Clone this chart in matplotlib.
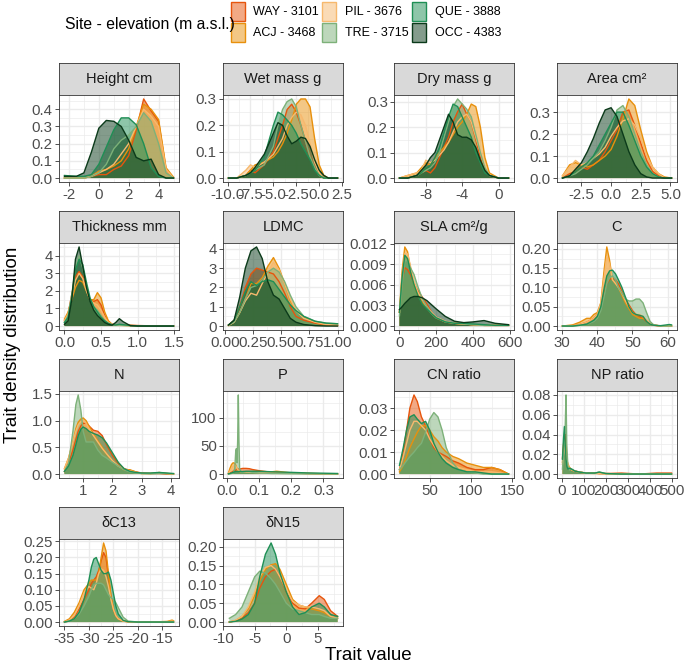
import matplotlib
matplotlib.use("Agg")
import matplotlib.pyplot as plt
from matplotlib.patches import Rectangle
from matplotlib.ticker import AutoMinorLocator

plt.rcParams['font.family'] = ['Liberation Sans', 'DejaVu Sans']
plt.rcParams['axes.unicode_minus'] = False

# ---------------- data ----------------
sites = ['WAY', 'ACJ', 'PIL', 'TRE', 'QUE', 'OCC']
site_labels = ['WAY - 3101', 'ACJ - 3468', 'PIL - 3676', 'TRE - 3715', 'QUE - 3888', 'OCC - 4383']
site_colors = ['#E6550D', '#E8900C', '#F7B96E', '#7DB179', '#1F8F55', '#0B3A1A']

panel_titles = ['Height cm', 'Wet mass g', 'Dry mass g', 'Area cm²',
                'Thickness mm', 'LDMC', 'SLA cm²/g', 'C',
                'N', 'P', 'CN ratio', 'NP ratio',
                'δC13', 'δN15']

height_x = [-2.3, -1.5, -1, -0.5, 0, 0.5, 1, 1.5, 2, 2.5, 3, 3.5, 4, 4.5, 5.0]
height_y = {
    'WAY': [0, 0, 0, 0.01, 0.02, 0.02, 0.05, 0.07, 0.13, 0.28, 0.46, 0.39, 0.33, 0.05, 0],
    'ACJ': [0, 0, 0, 0.01, 0.04, 0.05, 0.07, 0.10, 0.17, 0.30, 0.43, 0.40, 0.34, 0.06, 0.005],
    'PIL': [0, 0, 0, 0.01, 0.03, 0.05, 0.08, 0.14, 0.20, 0.30, 0.40, 0.36, 0.30, 0.05, 0],
    'TRE': [0, 0, 0, 0.01, 0.03, 0.08, 0.17, 0.22, 0.25, 0.30, 0.38, 0.33, 0.20, 0.03, 0],
    'QUE': [0.015, 0.01, 0.01, 0.02, 0.08, 0.18, 0.28, 0.35, 0.35, 0.31, 0.20, 0.06, 0.01, 0, 0],
    'OCC': [0.01, 0.01, 0.03, 0.15, 0.29, 0.335, 0.33, 0.30, 0.22, 0.12, 0.10, 0.11, 0.02, 0, 0],
}

wet_x = [-9.9, -9, -8, -7.5, -7, -6, -5, -4.5, -4, -3.5, -3, -2.5, -2, -1.5, -1, -0.5, 0, 0.5, 1, 2.0]
wet_y = {
    'WAY': [0, 0, 0.01, 0.03, 0.02, 0.05, 0.10, 0.15, 0.20, 0.26, 0.28, 0.25, 0.20, 0.14, 0.08, 0.04, 0.01, 0, 0, 0],
    'ACJ': [0, 0, 0.01, 0.03, 0.05, 0.06, 0.08, 0.10, 0.13, 0.17, 0.22, 0.28, 0.30, 0.30, 0.27, 0.15, 0.05, 0.01, 0, 0],
    'PIL': [0, 0, 0.03, 0.05, 0.04, 0.06, 0.09, 0.12, 0.15, 0.20, 0.23, 0.25, 0.24, 0.20, 0.13, 0.06, 0.02, 0, 0, 0],
    'TRE': [0, 0, 0.01, 0.02, 0.03, 0.05, 0.12, 0.20, 0.26, 0.29, 0.30, 0.27, 0.20, 0.14, 0.08, 0.04, 0.01, 0, 0, 0],
    'QUE': [0, 0, 0.01, 0.02, 0.03, 0.08, 0.20, 0.25, 0.24, 0.22, 0.20, 0.17, 0.13, 0.10, 0.07, 0.03, 0.01, 0, 0, 0],
    'OCC': [0, 0, 0.01, 0.02, 0.04, 0.09, 0.17, 0.21, 0.20, 0.16, 0.13, 0.14, 0.155, 0.15, 0.12, 0.07, 0.03, 0.01, 0, 0],
}

dry_x = [-10.9, -10, -9, -8.5, -8, -7.5, -7, -6.5, -6, -5.5, -5, -4.5, -4, -3.5, -3, -2.5, -2, -1.5, -1, 0, 1.1]
dry_y = {
    'WAY': [0, 0, 0.01, 0.02, 0.03, 0.02, 0.04, 0.08, 0.12, 0.16, 0.22, 0.26, 0.29, 0.25, 0.22, 0.15, 0.08, 0.03, 0.01, 0, 0],
    'ACJ': [0, 0.01, 0.02, 0.04, 0.06, 0.05, 0.08, 0.10, 0.12, 0.14, 0.17, 0.20, 0.22, 0.25, 0.29, 0.28, 0.20, 0.08, 0.02, 0, 0],
    'PIL': [0, 0.01, 0.02, 0.03, 0.07, 0.06, 0.07, 0.09, 0.11, 0.14, 0.18, 0.22, 0.24, 0.25, 0.22, 0.16, 0.10, 0.04, 0.01, 0, 0],
    'TRE': [0, 0, 0.01, 0.02, 0.03, 0.04, 0.06, 0.10, 0.16, 0.22, 0.28, 0.31, 0.29, 0.27, 0.24, 0.17, 0.10, 0.04, 0.01, 0, 0],
    'QUE': [0, 0, 0.01, 0.02, 0.04, 0.05, 0.08, 0.12, 0.18, 0.24, 0.29, 0.28, 0.24, 0.20, 0.16, 0.10, 0.06, 0.02, 0.01, 0, 0],
    'OCC': [0, 0, 0.01, 0.03, 0.05, 0.08, 0.10, 0.15, 0.20, 0.25, 0.22, 0.17, 0.16, 0.16, 0.15, 0.12, 0.07, 0.03, 0.01, 0, 0],
}

area_x = [-4.1, -3.5, -3, -2.5, -2, -1.5, -1, -0.5, 0, 0.5, 1, 1.5, 2, 2.5, 3, 3.5, 4, 4.5, 5.1]
area_y = {
    'WAY': [0, 0.02, 0.03, 0.05, 0.04, 0.06, 0.08, 0.12, 0.17, 0.22, 0.30, 0.31, 0.24, 0.16, 0.08, 0.03, 0.01, 0, 0],
    'ACJ': [0.01, 0.06, 0.07, 0.06, 0.05, 0.06, 0.08, 0.10, 0.13, 0.19, 0.27, 0.36, 0.33, 0.22, 0.12, 0.05, 0.02, 0.005, 0],
    'PIL': [0.01, 0.05, 0.08, 0.06, 0.07, 0.09, 0.11, 0.14, 0.19, 0.23, 0.26, 0.27, 0.24, 0.18, 0.10, 0.05, 0.02, 0, 0],
    'TRE': [0, 0.01, 0.02, 0.04, 0.06, 0.09, 0.12, 0.17, 0.23, 0.31, 0.33, 0.28, 0.20, 0.12, 0.06, 0.02, 0.005, 0, 0],
    'QUE': [0, 0.01, 0.03, 0.05, 0.07, 0.10, 0.15, 0.20, 0.25, 0.30, 0.30, 0.24, 0.17, 0.10, 0.05, 0.02, 0.005, 0, 0],
    'OCC': [0, 0.01, 0.04, 0.07, 0.12, 0.18, 0.25, 0.31, 0.32, 0.28, 0.20, 0.12, 0.06, 0.02, 0.005, 0, 0, 0, 0],
}

thick_x = [0.0, 0.05, 0.1, 0.15, 0.2, 0.25, 0.3, 0.35, 0.4, 0.45, 0.5, 0.55, 0.6, 0.65, 0.7, 0.75, 0.8, 0.9, 1.0, 1.2, 1.49]
thick_y = {
    'WAY': [0.3, 0.7, 1.8, 2.8, 3.1, 2.8, 2.1, 1.5, 1.4, 1.5, 1.2, 0.6, 0.25, 0.1, 0.06, 0.06, 0.05, 0.05, 0.03, 0.01, 0],
    'ACJ': [0.4, 0.8, 1.5, 2.2, 2.6, 2.5, 2.0, 1.5, 1.5, 1.9, 1.6, 0.8, 0.3, 0.1, 0.05, 0.05, 0.04, 0.03, 0.02, 0.01, 0],
    'PIL': [0.3, 0.7, 1.6, 2.6, 3.0, 2.7, 2.0, 1.5, 1.3, 1.2, 0.9, 0.5, 0.2, 0.1, 0.05, 0.04, 0.03, 0.02, 0.01, 0, 0],
    'TRE': [0.2, 0.6, 1.8, 3.3, 4.0, 3.3, 2.3, 1.5, 1.1, 0.9, 0.6, 0.3, 0.15, 0.08, 0.05, 0.05, 0.04, 0.02, 0.01, 0, 0],
    'QUE': [0.2, 0.5, 1.6, 3.2, 3.8, 3.5, 2.5, 1.6, 1.1, 0.8, 0.5, 0.3, 0.15, 0.08, 0.06, 0.10, 0.08, 0.03, 0.01, 0, 0],
    'OCC': [0.1, 0.3, 1.5, 3.8, 4.5, 3.4, 2.2, 1.4, 0.9, 0.6, 0.4, 0.2, 0.1, 0.05, 0.2, 0.42, 0.25, 0.02, 0, 0, 0],
}

ldmc_x = [0.03, 0.08, 0.13, 0.18, 0.23, 0.28, 0.33, 0.38, 0.43, 0.48, 0.53, 0.58, 0.63, 0.7, 0.8, 0.9, 1.0]
ldmc_y = {
    'WAY': [0.05, 0.3, 1.0, 2.0, 2.7, 3.0, 2.9, 2.8, 2.7, 2.3, 1.7, 1.0, 0.5, 0.3, 0.15, 0.05, 0.02],
    'ACJ': [0.03, 0.2, 0.7, 1.4, 2.2, 2.2, 2.5, 3.1, 3.55, 3.0, 2.2, 1.3, 0.8, 0.45, 0.2, 0.08, 0.05],
    'PIL': [0.03, 0.2, 0.7, 1.3, 1.7, 1.6, 2.2, 2.8, 3.3, 2.9, 2.2, 1.4, 0.8, 0.4, 0.2, 0.08, 0.05],
    'TRE': [0.05, 0.2, 0.7, 1.4, 2.0, 2.1, 2.4, 2.8, 3.0, 2.8, 2.3, 1.6, 1.0, 0.5, 0.25, 0.15, 0.12],
    'QUE': [0.05, 0.3, 1.0, 1.8, 2.3, 2.1, 2.3, 2.4, 2.3, 1.9, 1.5, 1.1, 0.8, 0.5, 0.25, 0.15, 0.12],
    'OCC': [0.05, 0.3, 1.5, 3.0, 3.9, 4.1, 3.5, 2.3, 1.6, 1.4, 0.9, 0.4, 0.2, 0.08, 0.02, 0, 0],
}

sla_x = [1, 15, 30, 45, 60, 80, 100, 125, 150, 175, 200, 250, 300, 350, 400, 460, 520, 593]
sla_y = {
    'WAY': [0.002, 0.0065, 0.0085, 0.0082, 0.0075, 0.0062, 0.0052, 0.0042, 0.0032, 0.002, 0.0012, 0.0006, 0.0004, 0.0003, 0.0002, 0.0001, 0.0001, 0.0001],
    'ACJ': [0.002, 0.008, 0.0115, 0.0108, 0.0085, 0.006, 0.0045, 0.0034, 0.0026, 0.0018, 0.0012, 0.0006, 0.0004, 0.0003, 0.0002, 0.0001, 0.0001, 0.0001],
    'PIL': [0.002, 0.007, 0.0105, 0.0105, 0.0088, 0.0065, 0.005, 0.0038, 0.0028, 0.002, 0.0013, 0.0007, 0.0004, 0.0003, 0.0002, 0.0001, 0.0001, 0.0001],
    'TRE': [0.0015, 0.006, 0.0095, 0.0095, 0.0085, 0.0075, 0.0058, 0.004, 0.0028, 0.0018, 0.0012, 0.0006, 0.0004, 0.0003, 0.0002, 0.0001, 0.0001, 0.0001],
    'QUE': [0.002, 0.007, 0.0103, 0.0098, 0.008, 0.006, 0.0045, 0.0032, 0.0025, 0.0018, 0.0012, 0.0006, 0.0004, 0.0004, 0.0003, 0.0002, 0.0001, 0.0001],
    'OCC': [0.0024, 0.0028, 0.0033, 0.0037, 0.0041, 0.0043, 0.0043, 0.0041, 0.0037, 0.0031, 0.0025, 0.0014, 0.0007, 0.0005, 0.0006, 0.0008, 0.0004, 0.0002],
}

c_x = [30.1, 33, 35, 37, 38, 39, 40, 41, 42, 42.7, 43.5, 44.3, 45.2, 46, 47, 48, 49, 50, 51, 52, 53, 54, 55, 56, 58, 60.5, 61.1]
c_y = {
    'WAY': [0, 0.001, 0.004, 0.01, 0.015, 0.02, 0.03, 0.05, 0.09, 0.11, 0.12, 0.125, 0.12, 0.11, 0.09, 0.07, 0.055, 0.04, 0.03, 0.025, 0.02, 0.012, 0.006, 0.002, 0, 0, 0],
    'ACJ': [0, 0.003, 0.01, 0.02, 0.02, 0.03, 0.035, 0.06, 0.15, 0.205, 0.17, 0.12, 0.11, 0.10, 0.08, 0.06, 0.045, 0.03, 0.025, 0.02, 0.02, 0.015, 0.008, 0.003, 0, 0, 0],
    'PIL': [0, 0.001, 0.004, 0.01, 0.015, 0.02, 0.03, 0.06, 0.13, 0.18, 0.16, 0.12, 0.11, 0.10, 0.085, 0.065, 0.05, 0.035, 0.03, 0.03, 0.025, 0.015, 0.008, 0.003, 0, 0, 0],
    'TRE': [0, 0, 0.002, 0.005, 0.008, 0.012, 0.02, 0.04, 0.08, 0.11, 0.125, 0.13, 0.12, 0.10, 0.085, 0.07, 0.065, 0.065, 0.07, 0.07, 0.06, 0.035, 0.012, 0.003, 0, 0, 0],
    'QUE': [0, 0, 0.002, 0.005, 0.01, 0.015, 0.025, 0.05, 0.10, 0.13, 0.143, 0.145, 0.135, 0.12, 0.10, 0.075, 0.05, 0.035, 0.03, 0.028, 0.025, 0.012, 0.005, 0.002, 0.001, 0.004, 0.003],
    'OCC': None,
}

n_x = [0.36, 0.5, 0.65, 0.75, 0.83, 0.92, 1.0, 1.1, 1.2, 1.35, 1.5, 1.65, 1.8, 2.0, 2.2, 2.4, 2.6, 2.8, 3.0, 3.3, 3.6, 3.85, 4.09]
n_y = {
    'WAY': [0.05, 0.2, 0.45, 0.65, 0.8, 0.9, 0.95, 0.95, 0.9, 0.82, 0.8, 0.72, 0.55, 0.35, 0.2, 0.1, 0.07, 0.04, 0.02, 0.01, 0.01, 0, 0],
    'ACJ': [0.1, 0.3, 0.6, 0.85, 0.97, 1.03, 1.05, 1.0, 0.9, 0.75, 0.62, 0.5, 0.38, 0.25, 0.15, 0.08, 0.08, 0.04, 0.01, 0.01, 0.03, 0.01, 0],
    'PIL': [0.1, 0.3, 0.6, 0.8, 0.92, 0.98, 1.0, 0.95, 0.85, 0.72, 0.6, 0.48, 0.38, 0.25, 0.15, 0.09, 0.06, 0.03, 0.01, 0.01, 0.02, 0.01, 0],
    'TRE': [0.05, 0.2, 0.8, 1.3, 1.48, 1.2, 0.8, 0.6, 0.6, 0.6, 0.45, 0.35, 0.3, 0.22, 0.15, 0.08, 0.04, 0.02, 0.01, 0.005, 0.01, 0.01, 0.005],
    'QUE': [0.05, 0.15, 0.35, 0.55, 0.72, 0.84, 0.88, 0.85, 0.8, 0.76, 0.73, 0.68, 0.58, 0.4, 0.22, 0.1, 0.05, 0.03, 0.02, 0.02, 0.03, 0.02, 0.01],
    'OCC': None,
}

p_x = [0.0054, 0.01, 0.015, 0.02, 0.025, 0.028, 0.03, 0.032, 0.034, 0.036, 0.038, 0.04, 0.045, 0.05, 0.06, 0.07, 0.08, 0.1, 0.12, 0.14, 0.155, 0.17, 0.2, 0.25, 0.3, 0.344]
p_y = {
    'WAY': [0.5, 1.5, 3, 5, 6, 7, 7.5, 8, 8, 8.5, 9, 9, 9.5, 10, 10, 9.5, 8, 6, 4.5, 3, 2.5, 2, 1.5, 1, 0.5, 0.2],
    'ACJ': [2, 10, 17, 20, 19, 16, 13, 10, 8, 6, 5, 4, 3, 3, 3, 3, 3, 3, 3, 4, 5, 4, 2, 1, 0.5, 0.2],
    'PIL': [1, 5, 10, 14, 15, 14, 12, 10, 8, 7, 6, 5, 4, 4, 3.5, 3, 3, 2.5, 2, 2, 2, 2, 1.5, 1, 0.5, 0.2],
    'TRE': [0, 0.5, 1, 2, 10, 40, 45, 20, 60, 140, 60, 10, 3, 3, 4, 4, 3, 2, 1.5, 1, 1, 0.8, 0.5, 0.3, 0.2, 0.1],
    'QUE': [0.5, 1, 2, 3, 4, 4.5, 4.5, 4.5, 4.5, 4.5, 4.5, 4.5, 4.5, 4.5, 5, 5, 5, 5, 4.5, 4, 3.8, 3.5, 3, 2, 1.5, 1],
    'OCC': None,
}

cn_x = [13.4, 18, 22, 26, 31, 35, 40, 45, 50, 55, 60, 65, 70, 78, 85, 95, 105, 115, 125, 135, 145.4]
cn_y = {
    'WAY': [0.002, 0.01, 0.02, 0.03, 0.036, 0.033, 0.026, 0.022, 0.016, 0.012, 0.01, 0.009, 0.008, 0.006, 0.005, 0.003, 0.002, 0.002, 0.003, 0.002, 0],
    'ACJ': [0.001, 0.004, 0.008, 0.012, 0.016, 0.019, 0.022, 0.022, 0.02, 0.017, 0.015, 0.012, 0.01, 0.008, 0.007, 0.005, 0.004, 0.003, 0.003, 0.002, 0],
    'PIL': [0.002, 0.008, 0.014, 0.02, 0.024, 0.024, 0.022, 0.02, 0.016, 0.013, 0.01, 0.008, 0.006, 0.004, 0.003, 0.002, 0.001, 0.001, 0.001, 0.0005, 0],
    'TRE': [0.002, 0.004, 0.006, 0.008, 0.01, 0.012, 0.014, 0.019, 0.025, 0.028, 0.026, 0.02, 0.012, 0.005, 0.002, 0.001, 0.0005, 0, 0, 0, 0],
    'QUE': [0.004, 0.012, 0.02, 0.026, 0.027, 0.025, 0.023, 0.024, 0.02, 0.014, 0.01, 0.007, 0.005, 0.003, 0.002, 0.001, 0.001, 0.0005, 0, 0, 0],
    'OCC': None,
}

np_x = [3.4, 8, 12, 16, 19.6, 23, 28, 35, 45, 60, 80, 110, 150, 170, 200, 270, 350, 430, 497]
np_y = {
    'WAY': [0.016, 0.03, 0.035, 0.04, 0.025, 0.012, 0.008, 0.006, 0.004, 0.003, 0.002, 0.001, 0.001, 0.0005, 0.0005, 0.001, 0, 0.001, 0.001],
    'ACJ': [0.012, 0.025, 0.03, 0.032, 0.025, 0.015, 0.01, 0.007, 0.004, 0.003, 0.002, 0.001, 0.001, 0.0005, 0.0005, 0, 0, 0, 0],
    'PIL': [0.01, 0.02, 0.025, 0.028, 0.022, 0.014, 0.01, 0.006, 0.004, 0.003, 0.002, 0.001, 0.0005, 0.0005, 0, 0, 0, 0, 0],
    'TRE': [0.005, 0.02, 0.03, 0.05, 0.08, 0.03, 0.008, 0.004, 0.005, 0.003, 0.002, 0.001, 0.001, 0.002, 0.0005, 0, 0, 0, 0],
    'QUE': [0.015, 0.035, 0.048, 0.03, 0.015, 0.008, 0.005, 0.006, 0.005, 0.003, 0.002, 0.001, 0.001, 0.002, 0.0005, 0, 0, 0, 0],
    'OCC': None,
}

dc13_x = [-35, -34, -33, -32, -31, -30, -29.5, -29, -28.5, -28, -27.5, -27, -26.5, -26, -25.5, -25, -24.5, -24, -23, -22, -20, -17, -14, -13, -12.7]
dc13_y = {
    'WAY': [0, 0.005, 0.015, 0.04, 0.07, 0.10, 0.12, 0.13, 0.14, 0.16, 0.19, 0.215, 0.20, 0.14, 0.08, 0.04, 0.02, 0.01, 0.003, 0.001, 0, 0, 0, 0, 0],
    'ACJ': [0.002, 0.01, 0.03, 0.06, 0.10, 0.12, 0.13, 0.13, 0.13, 0.15, 0.20, 0.245, 0.22, 0.15, 0.08, 0.04, 0.02, 0.01, 0.003, 0.001, 0, 0, 0.002, 0.006, 0.004],
    'PIL': [0.001, 0.006, 0.02, 0.05, 0.09, 0.11, 0.105, 0.10, 0.12, 0.15, 0.165, 0.16, 0.14, 0.11, 0.07, 0.04, 0.02, 0.01, 0.003, 0, 0, 0, 0.001, 0.003, 0.002],
    'TRE': [0, 0.003, 0.01, 0.025, 0.05, 0.08, 0.10, 0.115, 0.12, 0.12, 0.12, 0.115, 0.10, 0.085, 0.075, 0.07, 0.06, 0.045, 0.015, 0.003, 0, 0, 0, 0, 0],
    'QUE': [0, 0.003, 0.01, 0.03, 0.07, 0.13, 0.17, 0.195, 0.20, 0.18, 0.16, 0.15, 0.15, 0.155, 0.13, 0.09, 0.05, 0.025, 0.005, 0.001, 0, 0, 0, 0, 0],
    'OCC': None,
}

dn15_x = [-9, -8, -7, -6, -5, -4.2, -3.3, -2.4, -1.7, -1, 0, 1, 2, 3, 4, 5.2, 6, 7, 8.1]
dn15_y = {
    'WAY': [0, 0.003, 0.01, 0.025, 0.05, 0.09, 0.12, 0.135, 0.14, 0.12, 0.08, 0.05, 0.037, 0.035, 0.05, 0.07, 0.06, 0.03, 0.015],
    'ACJ': [0, 0.004, 0.015, 0.035, 0.07, 0.11, 0.14, 0.152, 0.155, 0.14, 0.10, 0.06, 0.045, 0.04, 0.035, 0.03, 0.025, 0.015, 0.01],
    'PIL': [0, 0.005, 0.015, 0.04, 0.08, 0.12, 0.145, 0.15, 0.14, 0.12, 0.085, 0.055, 0.045, 0.04, 0.04, 0.035, 0.03, 0.015, 0.01],
    'TRE': [0.01, 0.02, 0.04, 0.08, 0.12, 0.135, 0.13, 0.115, 0.10, 0.08, 0.05, 0.035, 0.03, 0.025, 0.02, 0.02, 0.015, 0.01, 0.01],
    'QUE': [0, 0.002, 0.008, 0.02, 0.05, 0.12, 0.18, 0.21, 0.18, 0.13, 0.08, 0.04, 0.02, 0.025, 0.04, 0.05, 0.04, 0.02, 0.015],
    'OCC': None,
}

panel_x = [height_x, wet_x, dry_x, area_x, thick_x, ldmc_x, sla_x, c_x, n_x, p_x, cn_x, np_x, dc13_x, dn15_x]
panel_y = [height_y, wet_y, dry_y, area_y, thick_y, ldmc_y, sla_y, c_y, n_y, p_y, cn_y, np_y, dc13_y, dn15_y]

x_ticks = [
    [-2, 0, 2, 4], [-10.0, -7.5, -5.0, -2.5, 0.0, 2.5], [-8, -4, 0], [-2.5, 0.0, 2.5, 5.0],
    [0.0, 0.5, 1.0, 1.5], [0.0, 0.25, 0.5, 0.75, 1.0], [0, 200, 400, 600], [30, 40, 50, 60],
    [1, 2, 3, 4], [0.0, 0.1, 0.2, 0.3], [50, 100, 150], [0, 100, 200, 300, 400, 500],
    [-35, -30, -25, -20, -15], [-10, -5, 0, 5],
]
x_labels = [
    ['-2', '0', '2', '4'], ['-10.0', '-7.5', '-5.0', '-2.5', '0.0', '2.5'], ['-8', '-4', '0'],
    ['-2.5', '0.0', '2.5', '5.0'],
    ['0.0', '0.5', '1.0', '1.5'], ['0.00', '0.25', '0.50', '0.75', '1.00'], ['0', '200', '400', '600'],
    ['30', '40', '50', '60'],
    ['1', '2', '3', '4'], ['0.0', '0.1', '0.2', '0.3'], ['50', '100', '150'],
    ['0', '100', '200', '300', '400', '500'],
    ['-35', '-30', '-25', '-20', '-15'], ['-10', '-5', '0', '5'],
]
y_ticks = [
    [0, 0.1, 0.2, 0.3, 0.4], [0, 0.1, 0.2, 0.3], [0, 0.1, 0.2, 0.3], [0, 0.1, 0.2, 0.3],
    [0, 1, 2, 3, 4], [0, 1, 2, 3, 4], [0, 0.003, 0.006, 0.009, 0.012], [0, 0.05, 0.10, 0.15, 0.20],
    [0, 0.5, 1.0, 1.5], [0, 50, 100], [0, 0.01, 0.02, 0.03], [0, 0.02, 0.04, 0.06, 0.08],
    [0, 0.05, 0.10, 0.15, 0.20, 0.25], [0, 0.05, 0.10, 0.15, 0.20],
]
y_labels = [
    ['0.0', '0.1', '0.2', '0.3', '0.4'], ['0.0', '0.1', '0.2', '0.3'], ['0.0', '0.1', '0.2', '0.3'],
    ['0.0', '0.1', '0.2', '0.3'],
    ['0', '1', '2', '3', '4'], ['0', '1', '2', '3', '4'], ['0.000', '0.003', '0.006', '0.009', '0.012'],
    ['0.00', '0.05', '0.10', '0.15', '0.20'],
    ['0.0', '0.5', '1.0', '1.5'], ['0', '50', '100'], ['0.00', '0.01', '0.02', '0.03'],
    ['0.00', '0.02', '0.04', '0.06', '0.08'],
    ['0.00', '0.05', '0.10', '0.15', '0.20', '0.25'], ['0.00', '0.05', '0.10', '0.15', '0.20'],
]

# ---------------- layout ----------------
W, H = 685, 669
fig = plt.figure(figsize=(W / 100, H / 100), dpi=100)

col_left = [59, 223, 394, 557]
row_top = [63, 211, 359, 507]
panel_w = 120
strip_h = 32
plot_h = 87

GRID = '#EBEBEB'
BORDER = '#333333'
TICKCOL = '#4D4D4D'


def px_axes(x, y, w, h):
    return fig.add_axes([x / W, 1 - (y + h) / H, w / W, h / H])


for i, title in enumerate(panel_titles):
    r, c = divmod(i, 4)
    x0 = col_left[c]
    y0 = row_top[r]
    # strip
    sax = px_axes(x0, y0, panel_w, strip_h)
    sax.set_facecolor('#D9D9D9')
    sax.set_xticks([])
    sax.set_yticks([])
    for sp in sax.spines.values():
        sp.set_color(BORDER)
        sp.set_linewidth(0.6)
    sax.text(0.5, 0.5, title, ha='center', va='center', fontsize=10.5,
             color='#1A1A1A', transform=sax.transAxes)

    ax = px_axes(x0, y0 + strip_h, panel_w, plot_h)
    xs = panel_x[i]
    ys = panel_y[i]
    ymax = 0
    for s, col in zip(sites, site_colors):
        yv = ys[s]
        if yv is None:
            continue
        ax.fill_between(xs, 0, yv, facecolor=col, alpha=0.5, linewidth=0, zorder=3)
        ax.plot(xs, yv, color=col, lw=1.0, zorder=4, solid_joinstyle='round')
        ymax = max(ymax, max(yv))
    xr = xs[-1] - xs[0]
    ax.set_xlim(xs[0] - 0.05 * xr, xs[-1] + 0.05 * xr)
    ax.set_ylim(-0.05 * ymax, 1.05 * ymax)
    ax.set_xticks(x_ticks[i])
    ax.set_xticklabels(x_labels[i])
    ax.set_yticks(y_ticks[i])
    ax.set_yticklabels(y_labels[i])
    ax.xaxis.set_minor_locator(AutoMinorLocator(2))
    ax.yaxis.set_minor_locator(AutoMinorLocator(2))
    ax.grid(True, which='major', color=GRID, lw=1.0, zorder=0)
    ax.grid(True, which='minor', color=GRID, lw=0.5, zorder=0)
    ax.set_axisbelow(True)
    ax.tick_params(which='major', direction='out', length=3, width=0.6, color=BORDER,
                   labelsize=10.8, labelcolor=TICKCOL, pad=1.5)
    ax.tick_params(which='minor', length=0)
    for sp in ax.spines.values():
        sp.set_color(BORDER)
        sp.set_linewidth(0.6)
        sp.set_zorder(6)

# axis titles
fig.text(13 / W, 1 - 345 / H, 'Trait density distribution', rotation=90,
         ha='center', va='center', fontsize=13.5, color='black')
fig.text(368 / W, 1 - 656 / H, 'Trait value', ha='center', va='center',
         fontsize=13.5, color='black')

# legend
fig.text(65 / W, 1 - 24 / H, 'Site - elevation (m a.s.l.)', ha='left', va='center',
         fontsize=11.3, color='black')
key_x = [231, 322, 412]
text_x = [253, 345, 435]
key_y = [2, 23]
for k, (lab, col) in enumerate(zip(site_labels, site_colors)):
    cc, rr = divmod(k, 2)
    kx, ky = key_x[cc], key_y[rr]
    rect = Rectangle((kx / W, 1 - (ky + 19) / H), 14 / W, 19 / H, transform=fig.transFigure,
                     facecolor=col, alpha=0.5, edgecolor='none')
    fig.patches.append(rect)
    rect2 = Rectangle((kx / W, 1 - (ky + 19) / H), 14 / W, 19 / H, transform=fig.transFigure,
                      facecolor='none', edgecolor=col, lw=1.0)
    fig.patches.append(rect2)
    fig.text(text_x[cc] / W, 1 - (ky + 10) / H, lab, ha='left', va='center',
             fontsize=9, color='black')

fig.savefig('out.png', dpi=100)
